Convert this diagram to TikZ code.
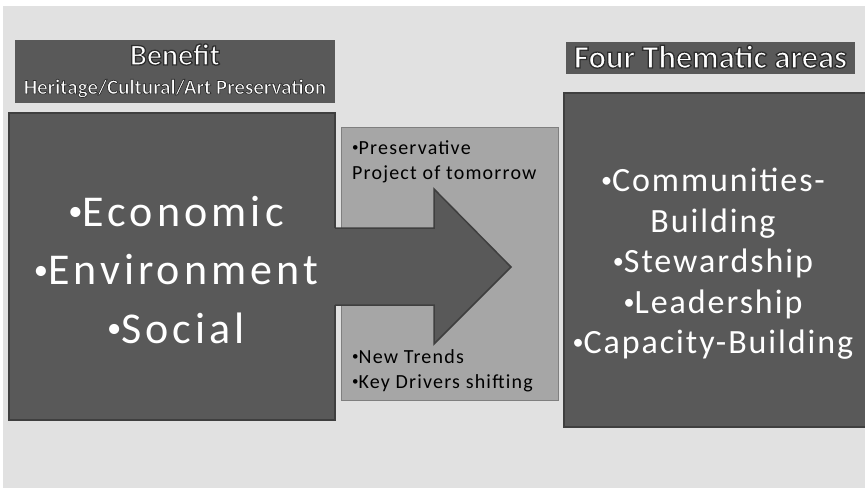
\documentclass[tikz,border=0pt]{standalone}
\usepackage{fontspec}
\setmainfont{Carlito}
\definecolor{bgcol}{HTML}{E1E1E1}
\definecolor{darkfill}{HTML}{595959}
\definecolor{darkline}{HTML}{3F3F3F}
\definecolor{midfill}{HTML}{A6A6A6}
\definecolor{midline}{HTML}{7F7F7F}
\newcommand{\hdr}[2][1.3]{\textcolor{white}{\bfseries\special{pdf:literal direct 2 Tr #1 w 0.18 G}#2\special{pdf:literal direct 0 Tr}}}
\newcommand{\bul}{\raisebox{0.12em}{\scalebox{0.65}{•}}}
\begin{document}
\begin{tikzpicture}[x=1pt,y=-1pt,
  darkbox/.style={draw=darkline, line width=2pt, fill=darkfill, inner sep=0pt},
  hdrbox/.style={fill=darkfill, inner sep=0pt},
  midbox/.style={draw=midline, line width=1pt, fill=midfill, inner sep=0pt},
  bigtext/.style={text=white, align=center, inner sep=0pt,
     font=\addfontfeatures{LetterSpace=9.3}\fontsize{44}{58.5}\selectfont},
  righttext/.style={text=white, align=center, inner sep=0pt,
     font=\addfontfeatures{LetterSpace=5.7}\fontsize{34}{40.4}\selectfont},
  smalltext/.style={text=black, align=left, inner sep=0pt,
     font=\addfontfeatures{LetterSpace=6}\fontsize{20}{25}\selectfont},
  hdrtext/.style={inner sep=0pt, anchor=base}
]
\useasboundingbox (0,0) rectangle (865,488);
\fill[white] (0,0) rectangle (865,488);
\fill[bgcol] (2.5,6) rectangle (865,488);

\begin{scope}
\clip (0,0) rectangle (865,488);
% left header
\node[hdrbox, minimum width=320pt, minimum height=63pt] (lhdr) at (175,71.5) {};
\node[hdrtext] (benefit) at (175,65) {\fontsize{30}{30}\selectfont\hdr{Benefit}};
\node[hdrtext] (heritage) at (175,94) {\fontsize{21}{21}\selectfont\hdr[0.75]{Heritage/Cultural/Art Preservation}};
% right header
\node[hdrbox, minimum width=289pt, minimum height=32pt] (rhdr) at (710.5,58) {};
\node[hdrtext] (four) at (710.5,68) {\fontsize{32.5}{32.5}\selectfont\hdr{Four Thematic areas}};
% left box
\node[darkbox, minimum width=326pt, minimum height=307pt] (lbox) at (172,266.5) {};
% middle box
\node[midbox, minimum width=217pt, minimum height=273pt] (mbox) at (449.5,263.5) {};
% arrow
\fill[darkfill] (333,228) -- (434,228) -- (434,189) -- (511,267) -- (434,344) -- (434,305) -- (333,305) -- cycle;
\draw[darkline, line width=1.5pt, miter limit=10] (335,228) -- (434,228) -- (434,189) -- (511,267) -- (434,344) -- (434,305) -- (335,305);
% right box
\node[darkbox, minimum width=305pt, minimum height=334pt] (rbox) at (716.5,260) {};
% texts (base anchor = baseline of last line)
\node[bigtext, anchor=base] (ltext) at (176,343) {\bul Economic\\\bul Environment\\\bul Social};
\node[smalltext, anchor=base west] (ptext) at (352,179) {\bul Preservative\\Project of tomorrow};
\node[smalltext, anchor=base west] (ntext) at (352,388) {\bul New Trends\\\bul Key Drivers shifting};
\node[righttext, anchor=base] (rtext) at (713,353.5) {\bul Communities-\\Building\\\bul Stewardship\\\bul Leadership\\\bul Capacity-Building};
\end{scope}
\end{tikzpicture}
\end{document}
